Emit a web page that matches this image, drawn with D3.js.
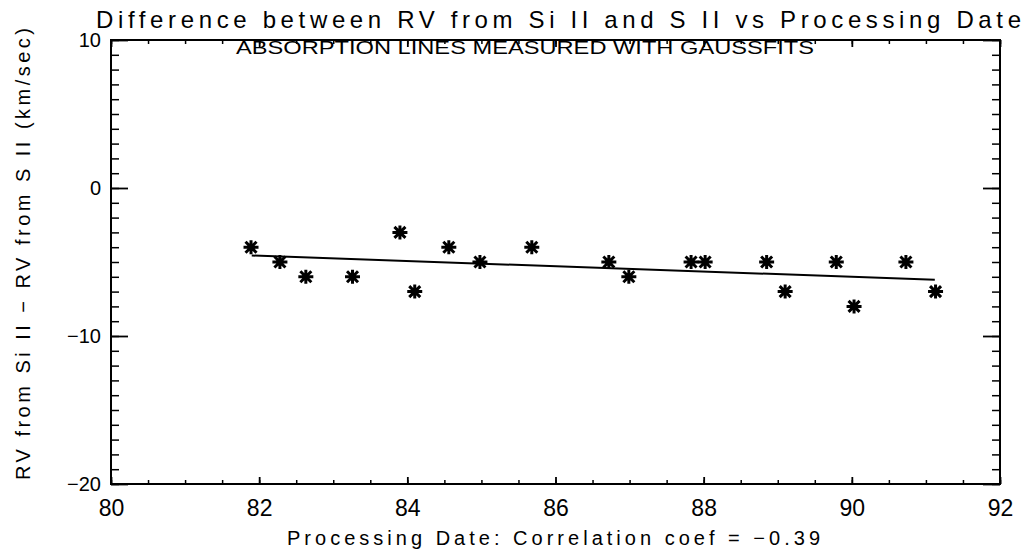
<!DOCTYPE html>
<html>
<head>
<meta charset="utf-8">
<script src="https://cdn.jsdelivr.net/npm/d3@7"></script>
<style>
  body { margin: 0; background: #fff; }
  text { font-family: "Liberation Sans", Arial, sans-serif; fill: #000; }
</style>
</head>
<body>
<script>
// processing date (years, 19xx) and RV difference (km/sec)
var dates = [81.89, 82.28, 82.63, 83.26, 83.90, 84.10, 84.56, 84.98, 85.68, 86.72,
             86.99, 87.83, 88.02, 88.85, 89.10, 89.79, 90.03, 90.73, 91.13];
var rvDiff = [-4, -5, -6, -6, -3, -7, -4, -5, -4, -5,
              -6, -5, -5, -5, -7, -5, -8, -5, -7];

// linear fit end points
var fitDates = [81.90, 91.12];
var fitRv = [-4.56, -6.20];

var xTickLabels = [80, 82, 84, 86, 88, 90, 92];
var yTickLabels = [10, 0, -10, -20];

var titleText = "Difference between RV from Si II and S II vs Processing Date";
var subText = "ABSORPTION LINES MEASURED WITH GAUSSFITS";
var xTitle = "Processing Date:   Correlation coef = \u22120.39";
var yTitle = "RV from Si II \u2212 RV from S II (km/sec)";

var width = 1031, height = 554;
var plotLeft = 111, plotRight = 1000, plotTop = 40, plotBottom = 484;

var svg = d3.select("body").append("svg")
    .attr("width", width)
    .attr("height", height);

var x = d3.scaleLinear().domain([80, 92]).range([plotLeft, plotRight]);
var y = d3.scaleLinear().domain([-20, 10]).range([plotBottom, plotTop]);

var minorX = d3.range(80, 92.01, 0.5);
var minorY = d3.range(-20, 10.01, 1);
var fmt = function(d) { return d < 0 ? "\u2212" + Math.abs(d) : "" + d; };

function styleAxis(g, w) {
  g.select(".domain").remove();
  g.selectAll("line").attr("stroke", "#000").attr("stroke-width", w);
}

// minor ticks
svg.append("g").attr("transform", "translate(0," + plotBottom + ")")
   .call(d3.axisBottom(x).tickValues(minorX).tickSize(-4).tickFormat(""))
   .call(styleAxis, 1.5);
svg.append("g").attr("transform", "translate(0," + plotTop + ")")
   .call(d3.axisTop(x).tickValues(minorX).tickSize(-4).tickFormat(""))
   .call(styleAxis, 1.5);
svg.append("g").attr("transform", "translate(" + plotLeft + ",0)")
   .call(d3.axisLeft(y).tickValues(minorY).tickSize(-8).tickFormat(""))
   .call(styleAxis, 1.5);
svg.append("g").attr("transform", "translate(" + plotRight + ",0)")
   .call(d3.axisRight(y).tickValues(minorY).tickSize(-8).tickFormat(""))
   .call(styleAxis, 1.5);

// major ticks with labels
var xAxis = svg.append("g").attr("transform", "translate(0," + plotBottom + ")")
   .call(d3.axisBottom(x).tickValues(xTickLabels).tickSize(-7).tickPadding(16).tickFormat(fmt))
   .call(styleAxis, 1.8);
xAxis.selectAll("text").style("font-size", "23px");

svg.append("g").attr("transform", "translate(0," + plotTop + ")")
   .call(d3.axisTop(x).tickValues(xTickLabels).tickSize(-7).tickFormat(""))
   .call(styleAxis, 1.8);

var yAxis = svg.append("g").attr("transform", "translate(" + plotLeft + ",0)")
   .call(d3.axisLeft(y).tickValues(yTickLabels).tickSize(-17).tickPadding(10).tickFormat(fmt))
   .call(styleAxis, 1.8);
yAxis.selectAll("text").style("font-size", "20px").attr("dy", "0.3em");

svg.append("g").attr("transform", "translate(" + plotRight + ",0)")
   .call(d3.axisRight(y).tickValues(yTickLabels).tickSize(-17).tickFormat(""))
   .call(styleAxis, 1.8);

// frame
svg.append("rect")
   .attr("x", plotLeft).attr("y", plotTop)
   .attr("width", plotRight - plotLeft).attr("height", plotBottom - plotTop)
   .attr("fill", "none").attr("stroke", "#000").attr("stroke-width", 2);

// fit line
var line = d3.line().x(function(d) { return x(d[0]); }).y(function(d) { return y(d[1]); });
svg.append("path")
   .datum(d3.zip(fitDates, fitRv))
   .attr("d", line)
   .attr("fill", "none").attr("stroke", "#000").attr("stroke-width", 2);

// asterisk markers
var r = 7.5, rv = 7, rd = 5.5;
var pts = svg.selectAll("g.pt").data(d3.zip(dates, rvDiff)).enter().append("g")
   .attr("class", "pt")
   .attr("transform", function(d) { return "translate(" + x(d[0]) + "," + y(d[1]) + ")"; });
pts.append("path")
   .attr("d", "M" + (-r) + ",0H" + r +
              "M0," + (-rv) + "V" + rv +
              "M" + (-rd) + "," + (-rd) + "L" + rd + "," + rd +
              "M" + (-rd) + "," + rd + "L" + rd + "," + (-rd))
   .attr("stroke", "#000").attr("stroke-width", 3).attr("fill", "none");

// titles
svg.append("text")
   .attr("x", 96).attr("y", 28)
   .attr("textLength", 925).attr("lengthAdjust", "spacing")
   .style("font-size", "24px")
   .text(titleText);

svg.append("text")
   .attr("x", 236).attr("y", 54)
   .attr("textLength", 578).attr("lengthAdjust", "spacingAndGlyphs")
   .style("font-size", "19px")
   .text(subText);

svg.append("text")
   .attr("x", 287).attr("y", 545)
   .attr("textLength", 533).attr("lengthAdjust", "spacing")
   .style("font-size", "20px")
   .text(xTitle);

svg.append("text")
   .attr("transform", "translate(30,480) rotate(-90)")
   .attr("textLength", 452).attr("lengthAdjust", "spacing")
   .style("font-size", "20px")
   .text(yTitle);
</script>
</body>
</html>
